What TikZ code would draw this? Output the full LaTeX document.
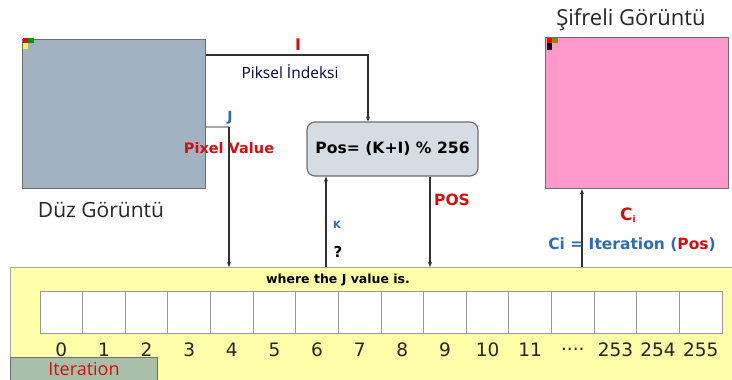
\documentclass[tikz,border=0pt]{standalone}
\usepackage{fontspec}
\setmainfont{DejaVu Sans}
\newfontfamily\capfont{Open Sans}
\usetikzlibrary{arrows.meta,calc}

\definecolor{plaingrey}{HTML}{A3B2C1}
\definecolor{cipherpink}{HTML}{FF99CC}
\definecolor{formulafill}{HTML}{D6DCE4}
\definecolor{panelyellow}{HTML}{FFFFAA}
\definecolor{tabgreen}{HTML}{A9BFA9}
\definecolor{labred}{HTML}{D01010}
\definecolor{labblue}{HTML}{2F6BB0}
\definecolor{edgegrey}{HTML}{6E6E6E}
\definecolor{darkline}{HTML}{303030}

\newcommand\gapdots{....}

\tikzset{
  imgbox/.style={draw=edgegrey, line width=1.2pt, inner sep=0pt, anchor=north west},
  cell/.style={draw=gray!80, line width=1pt, fill=white, minimum width=42.625pt, minimum height=42pt, inner sep=0pt},
  link/.style={draw=darkline, line width=1.3pt},
  tip/.style={-{Stealth[length=5pt,width=4pt]}},
  boldlab/.style={font=\bfseries\fontsize{14}{16}\selectfont},
  redlab/.style={boldlab, text=labred},
  bluelab/.style={boldlab, text=labblue},
  idx/.style={font=\fontsize{18.5}{20}\selectfont, text=black!85},
  caption/.style={font=\capfont\fontsize{21}{24}\selectfont, text=black!85},
}

\begin{document}
\begin{tikzpicture}[x=1pt,y=-1pt]
\useasboundingbox (0,0) rectangle (732,380);
\clip (0,0) rectangle (732,380);

% plain image and its top-left pixels
\node[imgbox, fill=plaingrey, minimum width=183pt, minimum height=149pt] (plain) at (22,39) {};
\fill[red] (23,38) rectangle (28,43);
\fill[green!60!black] (28,38) rectangle (34,43);
\fill[yellow!70] (23,43) rectangle (28,49);
\node[caption] (plaincap) at (101,210) {Düz Görüntü};

% cipher image and its top-left pixels
\node[imgbox, fill=cipherpink, minimum width=183pt, minimum height=151pt] (cipher) at (545,37) {};
\fill[red] (547,38) rectangle (552,43);
\fill[olive] (552,38) rectangle (558,43);
\fill[black] (547,43) rectangle (552,50);
\node[caption, font=\capfont\fontsize{22}{24}\selectfont] (ciphercap) at (631,20) {Şifreli Görüntü};

% formula box
\node[draw=edgegrey, line width=1.2pt, fill=formulafill, rounded corners=8pt,
      minimum width=171pt, minimum height=54pt, inner sep=0pt,
      font=\bfseries\fontsize{15.6}{17}\selectfont] (formula) at (392.5,149) {Pos= (K+I) \% 256};

% yellow panel with the permutation array
\node[draw=gray!70, line width=1pt, fill=panelyellow, anchor=north west,
      minimum width=740pt, minimum height=130pt, inner sep=0pt] (panel) at (10,267) {};
\node[font=\bfseries\fontsize{12.5}{14}\selectfont] (where) at (338,280) {where the J value is.};

\foreach \i [evaluate=\i as \cx using 40+42.625*\i+21.3125] in {0,...,15}
  \node[cell] (c\i) at (\cx,312) {};
\foreach \i/\t in {0/0,1/1,2/2,3/3,4/4,5/5,6/6,7/7,8/8,9/9,10/10,11/11,12/\gapdots,13/253,14/254,15/255}
  \node[idx] (n\i) at ($(c\i.south)+(0,16)$) {\t};

% iteration tab
\node[draw=edgegrey, line width=1pt, fill=tabgreen, anchor=north west,
      minimum width=147pt, minimum height=30pt, inner sep=0pt] (tab) at (10,357) {};
\node[font=\capfont\fontsize{18}{20}\selectfont, text=labred] (tabtxt) at (84,369) {Iteration};

% pixel index I
\coordinate (iturn) at (368,55);
\draw[link, tip] (plain.east |- iturn) -- (iturn) -- (iturn |- formula.north);
\node[redlab, font=\bfseries\fontsize{16}{18}\selectfont] (ilab) at (298,45) {I};
\node[font=\capfont\fontsize{15.5}{17}\selectfont, text=black!80!blue] (ipx) at (290,72) {Piksel İndeksi};

% pixel value J
\coordinate (jturn) at (229,127);
\draw[draw=gray!70, line width=1.2pt] (plain.east |- jturn) -- (jturn);
\draw[link, tip] (jturn) -- (jturn |- panel.north);
\node[bluelab] (jlab) at (230,118) {J};
\node[redlab, font=\bfseries\fontsize{14.5}{16}\selectfont] (pv) at (229,148) {Pixel Value};

% key K
\coordinate (kx) at (326,0);
\draw[link, tip] (kx |- panel.north) -- (kx |- formula.south);
\node[bluelab, font=\bfseries\fontsize{10}{12}\selectfont] (klab) at (337,225) {K};
\node[boldlab, font=\bfseries\fontsize{15}{17}\selectfont] (qlab) at (338,252) {?};

% position POS
\coordinate (px) at (430,0);
\draw[link, tip] (px |- formula.south) -- (px |- panel.north);
\node[redlab, font=\bfseries\fontsize{15.5}{17}\selectfont] (poslab) at (452,200) {POS};

% cipher pixel Ci
\coordinate (cx) at (582,0);
\draw[link, tip] (cx |- panel.north) -- (cx |- cipher.south);
\node[redlab, font=\bfseries\fontsize{17}{19}\selectfont] (cilab) at (628,215) {C\raisebox{-2pt}{\fontsize{9}{10}\selectfont i}};
\node[bluelab, font=\bfseries\fontsize{15.5}{17}\selectfont] (ceq) at (632,245) {Ci = Iteration (\textcolor{labred}{Pos})};
\end{tikzpicture}
\end{document}
